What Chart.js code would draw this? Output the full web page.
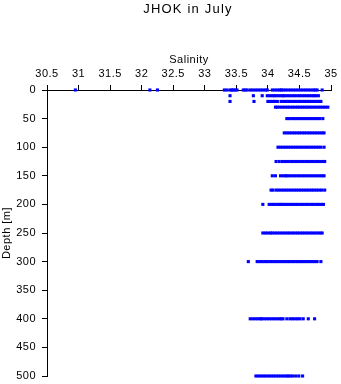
<!DOCTYPE html>
<html lang="en">
<head>
    <meta charset="UTF-8">
    <title>JHOK in July</title>
    <script src="https://cdn.jsdelivr.net/npm/chart.js"></script>
    <style>
        body {
            margin: 0;
            padding: 0;
            background-color: #ffffff;
        }

        .chart-box {
            width: 341px;
            height: 384px;
        }
    </style>
</head>
<body>
    <div class="chart-box">
        <canvas id="profileChart"></canvas>
    </div>

    <script>
        // Sample depths (m) and the salinity readings taken at each one
        const depths = [0, 10, 20, 30, 50, 75, 100, 125, 150, 175, 200, 250, 300, 400, 500];

        const sal0 = [30.95, 32.13, 32.25, 33.31, 33.35, 33.40, 33.43, 33.45, 33.48, 33.51, 33.61, 33.64, 33.67,
            33.72, 33.76, 33.80, 33.84, 33.88, 33.92, 33.96, 33.99, 34.07, 34.11, 34.15, 34.19, 34.21,
            34.24, 34.28, 34.32, 34.36, 34.40, 34.44, 34.48, 34.52, 34.56, 34.60, 34.64, 34.68, 34.72, 34.75, 34.78, 34.86];
        const sal10 = [33.40, 33.77, 33.91, 33.99, 34.03, 34.07, 34.10, 34.13, 34.17, 34.21, 34.24,
            34.26, 34.30, 34.34, 34.38, 34.42, 34.46, 34.50, 34.54, 34.58, 34.62, 34.66, 34.70, 34.73, 34.76, 34.80];
        const sal20 = [33.40, 33.78, 34.00, 34.04, 34.08, 34.11, 34.15, 34.21, 34.25, 34.29, 34.33, 34.37,
            34.41, 34.45, 34.49, 34.53, 34.57, 34.61, 34.65, 34.69, 34.73, 34.77, 34.81, 34.84];
        const sal30 = [34.12, 34.15, 34.19, 34.23, 34.27, 34.31, 34.35, 34.39, 34.43, 34.47, 34.51, 34.55,
            34.59, 34.63, 34.67, 34.71, 34.75, 34.79, 34.83, 34.87, 34.91, 34.95];
        const sal50 = [34.30, 34.34, 34.38, 34.42, 34.46, 34.50, 34.54, 34.58, 34.62, 34.66, 34.70, 34.74,
            34.78, 34.82, 34.87];
        const sal75 = [34.26, 34.30, 34.34, 34.38, 34.42, 34.46, 34.50, 34.54, 34.58, 34.62, 34.66, 34.70,
            34.74, 34.78, 34.82, 34.86, 34.89];
        const sal100 = [34.16, 34.20, 34.24, 34.28, 34.32, 34.36, 34.40, 34.44, 34.48, 34.52, 34.56, 34.60,
            34.64, 34.68, 34.72, 34.76, 34.80, 34.84, 34.89];
        const sal125 = [34.13, 34.18, 34.23, 34.27, 34.31, 34.36, 34.40, 34.44, 34.48, 34.52, 34.56, 34.60,
            34.64, 34.68, 34.72, 34.76, 34.80, 34.84, 34.88, 34.90];
        const sal150 = [34.07, 34.12, 34.20, 34.24, 34.28, 34.30, 34.34, 34.38, 34.42, 34.46, 34.50, 34.54,
            34.58, 34.62, 34.66, 34.70, 34.74, 34.78, 34.82, 34.86, 34.89];
        const sal175 = [34.05, 34.08, 34.13, 34.17, 34.21, 34.25, 34.29, 34.33, 34.37, 34.41, 34.45, 34.49,
            34.53, 34.57, 34.61, 34.65, 34.69, 34.73, 34.77, 34.81, 34.85, 34.90];
        const sal200 = [33.92, 34.02, 34.06, 34.10, 34.14, 34.18, 34.21, 34.24, 34.28, 34.32, 34.36, 34.40,
            34.44, 34.48, 34.52, 34.56, 34.60, 34.64, 34.68, 34.72, 34.76, 34.80, 34.84, 34.88];
        const sal250 = [33.92, 33.96, 34.00, 34.04, 34.07, 34.11, 34.15, 34.19, 34.23, 34.27, 34.31, 34.35,
            34.39, 34.43, 34.47, 34.51, 34.55, 34.59, 34.63, 34.67, 34.71, 34.75, 34.79, 34.83, 34.86];
        const sal300 = [33.69, 33.83, 33.87, 33.91, 33.95, 33.99, 34.03, 34.07, 34.11, 34.15, 34.19, 34.23,
            34.27, 34.31, 34.35, 34.39, 34.43, 34.47, 34.51, 34.54, 34.58, 34.62, 34.66, 34.70, 34.74, 34.78, 34.84];
        const sal400 = [33.72, 33.76, 33.80, 33.84, 33.88, 33.90, 33.94, 33.98, 34.02, 34.06, 34.10, 34.14,
            34.18, 34.21, 34.24, 34.30, 34.35, 34.39, 34.43, 34.47, 34.51, 34.56, 34.64, 34.74];
        const sal500 = [33.81, 33.85, 33.89, 33.93, 33.97, 34.01, 34.05, 34.09, 34.13, 34.17, 34.21, 34.25,
            34.29, 34.32, 34.35, 34.39, 34.44, 34.49, 34.55];

        const salinityByDepth = [sal0, sal10, sal20, sal30, sal50, sal75, sal100, sal125, sal150, sal175,
            sal200, sal250, sal300, sal400, sal500];

        // Tick labels
        const xTickLabels = ['30.5', '31', '31.5', '32', '32.5', '33', '33.5', '34', '34.5', '35'];
        const yTickLabels = ['0', '50', '100', '150', '200', '250', '300', '350', '400', '450', '500'];

        // Flatten into scatter points
        const points = [];
        depths.forEach((d, i) => {
            salinityByDepth[i].forEach(s => points.push({ x: s, y: d }));
        });

        const fontFamily = '"Liberation Sans", Arial, sans-serif';

        // Old-style plot text is a little wider spaced than canvas default
        const spacingPlugin = {
            id: 'spacing',
            beforeDraw(chart) {
                chart.ctx.letterSpacing = '0.5px';
            },
            afterDraw(chart) {
                const ctx = chart.ctx;
                const area = chart.chartArea;
                ctx.save();
                ctx.letterSpacing = '1.2px';
                ctx.font = '13px ' + fontFamily;
                ctx.fillStyle = '#000000';
                ctx.textAlign = 'center';
                ctx.textBaseline = 'alphabetic';
                ctx.fillText('JHOK in July', (area.left + area.right) / 2 - 1, 13);
                ctx.restore();
            }
        };

        Chart.defaults.font.family = fontFamily;
        Chart.defaults.font.size = 11;
        Chart.defaults.color = '#000000';

        const ctx = document.getElementById('profileChart').getContext('2d');

        new Chart(ctx, {
            type: 'scatter',
            data: {
                datasets: [{
                    data: points,
                    backgroundColor: '#0000ff',
                    borderWidth: 0,
                    pointStyle: 'rect',
                    pointRadius: 2.2,
                    pointHoverRadius: 2.2,
                    clip: false
                }]
            },
            options: {
                responsive: true,
                maintainAspectRatio: false,
                animation: false,
                layout: {
                    padding: { top: 50, left: 0, right: 10, bottom: 8 }
                },
                plugins: {
                    legend: { display: false },
                    tooltip: { enabled: false }
                },
                scales: {
                    x: {
                        type: 'linear',
                        position: 'top',
                        min: 30.5,
                        max: 35,
                        afterFit: s => {
                            s.height = 40;
                            s.paddingLeft = 0;
                            s.paddingRight = 0;
                        },
                        ticks: {
                            stepSize: 0.5,
                            padding: 4,
                            maxRotation: 0,
                            autoSkip: false,
                            callback: v => xTickLabels[Math.round((v - 30.5) / 0.5)]
                        },
                        grid: {
                            drawOnChartArea: false,
                            tickLength: 5,
                            color: '#000000'
                        },
                        border: { color: '#000000' },
                        title: {
                            display: true,
                            text: 'Salinity',
                            padding: { top: 3.5, bottom: 0 }
                        }
                    },
                    y: {
                        type: 'linear',
                        reverse: true,
                        min: 0,
                        max: 500,
                        afterFit: s => {
                            s.width = 47;
                            s.paddingTop = 0;
                            s.paddingBottom = 0;
                        },
                        ticks: {
                            stepSize: 50,
                            padding: 6,
                            autoSkip: false,
                            callback: v => yTickLabels[Math.round(v / 50)]
                        },
                        grid: {
                            drawOnChartArea: false,
                            tickLength: 5,
                            color: '#000000'
                        },
                        border: { color: '#000000' },
                        title: {
                            display: true,
                            text: 'Depth [m]',
                            padding: { top: 0, bottom: 0 }
                        }
                    }
                }
            },
            plugins: [spacingPlugin]
        });
    </script>
</body>
</html>
